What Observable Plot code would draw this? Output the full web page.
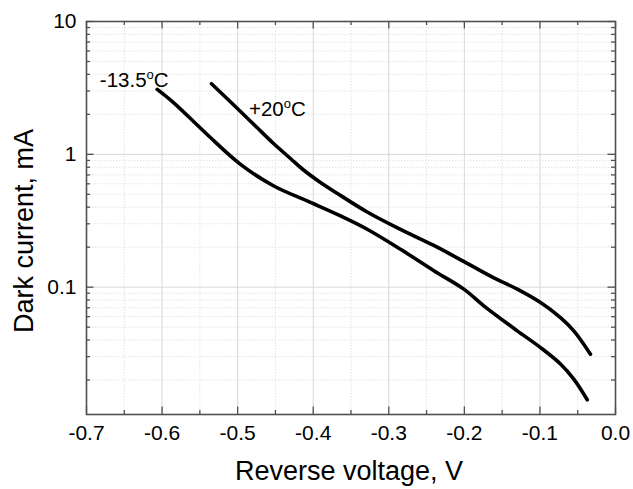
<!DOCTYPE html>
<html>
<head>
<meta charset="utf-8">
<script src="https://cdn.jsdelivr.net/npm/d3@7"></script>
<script src="https://cdn.jsdelivr.net/npm/@observablehq/plot@0.6"></script>
<style>
  html, body { margin: 0; padding: 0; background: #fff; }
</style>
</head>
<body>
<div id="chart"></div>
<script>
// Curve at -13.5 °C
const coldV = [-0.6064, -0.5845, -0.5403, -0.4962, -0.4521, -0.408, -0.3639, -0.3286, -0.2845, -0.2404, -0.2007, -0.1743, -0.130, -0.0992, -0.0728, -0.0552, -0.0374];
const coldI = [3.08, 2.44, 1.41, 0.841, 0.578, 0.446, 0.344, 0.273, 0.193, 0.133, 0.0966, 0.0724, 0.0469, 0.0351, 0.0264, 0.0203, 0.0142];
// Curve at +20 °C
const warmV = [-0.5346, -0.4962, -0.4737, -0.4525, -0.4301, -0.4128, -0.3904, -0.3679, -0.3286, -0.2845, -0.2404, -0.1963, -0.161, -0.130, -0.0992, -0.0728, -0.0552, -0.0331];
const warmI = [3.40, 2.10, 1.577, 1.206, 0.930, 0.762, 0.614, 0.507, 0.368, 0.272, 0.206, 0.151, 0.1175, 0.0966, 0.0766, 0.059, 0.0469, 0.0313];

// Curve labels
const labelText = ["-13.5°C", "+20°C"];
const labelV = [-0.6824, -0.485];
const labelI = [3.21, 1.96];

// Axis ticks
const xMajor = [-0.7, -0.6, -0.5, -0.4, -0.3, -0.2, -0.1, 0.0];
const xMinor = [-0.65, -0.55, -0.45, -0.35, -0.25, -0.15, -0.05];
const yMajor = [0.1, 1, 10];
const yMinor = [0.02, 0.03, 0.04, 0.05, 0.06, 0.07, 0.08, 0.09,
                0.2, 0.3, 0.4, 0.5, 0.6, 0.7, 0.8, 0.9,
                2, 3, 4, 5, 6, 7, 8, 9];

const xTitle = "Reverse voltage, V";
const yTitle = "Dark current, mA";

const data = [
  ...coldV.map((v, i) => ({series: "cold", v, i: coldI[i]})),
  ...warmV.map((v, i) => ({series: "warm", v, i: warmI[i]}))
];
const labels = labelText.map((t, k) => ({t, v: labelV[k], i: labelI[k]}));

const W = 633, H = 489, mL = 86, mR = 18, mT = 21, mB = 75;
const pW = W - mL - mR, pH = H - mT - mB;
const majLen = 7.5, minLen = 4;
const frameColor = "#505050";

const chart = Plot.plot({
  width: W, height: H,
  marginLeft: mL, marginRight: mR, marginTop: mT, marginBottom: mB,
  style: {fontFamily: "'Liberation Sans', Arial, sans-serif", color: "#000", background: "#fff"},
  x: {domain: [-0.7, 0], axis: null},
  y: {type: "log", domain: [0.011, 10], axis: null},
  marks: [
    Plot.gridX(xMinor, {stroke: "#e4e4e4", strokeOpacity: 1, strokeDasharray: "1.5,1.5"}),
    Plot.gridY(yMinor, {stroke: "#e4e4e4", strokeOpacity: 1, strokeDasharray: "1.5,1.5"}),
    Plot.gridX(xMajor, {stroke: "#d8d8d8", strokeOpacity: 1}),
    Plot.gridY(yMajor, {stroke: "#d8d8d8", strokeOpacity: 1}),
    // inward ticks, bottom & top
    Plot.tickX(xMajor, {x: d => d, insetTop: pH - majLen, stroke: frameColor, strokeWidth: 1.3}),
    Plot.tickX(xMinor, {x: d => d, insetTop: pH - minLen, stroke: frameColor, strokeWidth: 1.3}),
    Plot.tickX(xMajor, {x: d => d, insetBottom: pH - majLen, stroke: frameColor, strokeWidth: 1.3}),
    Plot.tickX(xMinor, {x: d => d, insetBottom: pH - minLen, stroke: frameColor, strokeWidth: 1.3}),
    // inward ticks, left & right
    Plot.tickY(yMajor, {y: d => d, insetRight: pW - majLen, stroke: frameColor, strokeWidth: 1.3}),
    Plot.tickY(yMinor, {y: d => d, insetRight: pW - minLen, stroke: frameColor, strokeWidth: 1.3}),
    Plot.tickY(yMajor, {y: d => d, insetLeft: pW - majLen, stroke: frameColor, strokeWidth: 1.3}),
    Plot.tickY(yMinor, {y: d => d, insetLeft: pW - minLen, stroke: frameColor, strokeWidth: 1.3}),
    Plot.frame({stroke: frameColor, strokeWidth: 1.6}),
    Plot.axisX({ticks: xMajor, tickSize: 0, tickPadding: 11, fontSize: 21, label: null,
                tickFormat: d => d.toFixed(1), fill: "#000"}),
    Plot.axisY({ticks: yMajor, tickSize: 0, tickPadding: 10, fontSize: 21, label: null,
                tickFormat: d => String(d), fill: "#000"}),
    Plot.text([xTitle], {text: d => d, frameAnchor: "bottom", textAnchor: "middle", lineAnchor: "bottom", dy: 65, dx: -2, fontSize: 27, fill: "#000"}),
    Plot.text([yTitle], {text: d => d, frameAnchor: "left", textAnchor: "middle", rotate: -90, lineAnchor: "bottom", dx: -54, dy: 13, fontSize: 27, fill: "#000"}),
    Plot.line(data, {x: "v", y: "i", z: "series", stroke: "#000", strokeWidth: 3.6, curve: "catmull-rom", strokeLinecap: "round", strokeLinejoin: "round"}),
    Plot.text(labels, {x: "v", y: "i", text: "t", textAnchor: "start", lineAnchor: "bottom", fontSize: 20.5, fill: "#000"})
  ]
});

// Render the degree sign as a superscript "o", like the original
chart.querySelectorAll("text").forEach(t => {
  const s = t.textContent;
  if (labelText.includes(s)) {
    const base = s.slice(0, -2);
    t.textContent = "";
    const ns = "http://www.w3.org/2000/svg";
    const a = document.createElementNS(ns, "tspan"); a.textContent = base; t.appendChild(a);
    const b = document.createElementNS(ns, "tspan"); b.textContent = "o";
    b.setAttribute("font-size", "13"); b.setAttribute("dy", "-8"); t.appendChild(b);
    const c = document.createElementNS(ns, "tspan"); c.textContent = "C";
    c.setAttribute("dy", "8"); t.appendChild(c);
  }
});

document.getElementById("chart").appendChild(chart);
</script>
</body>
</html>
